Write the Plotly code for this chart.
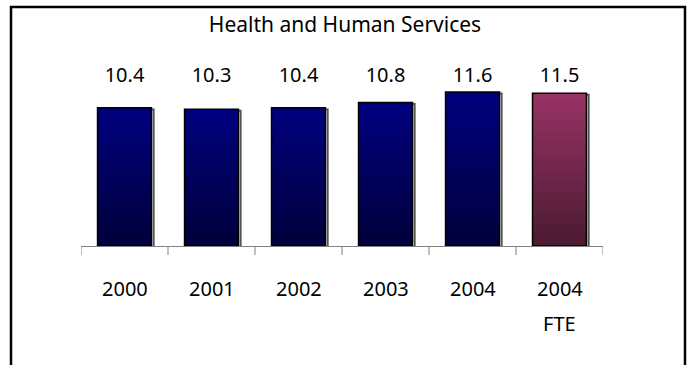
import plotly.graph_objects as go

categories = ["2000", "2001", "2002", "2003", "2004", "2004 FTE"]
tick_lines = [["2000"], ["2001"], ["2002"], ["2003"], ["2004"], ["2004", "FTE"]]
values = [10.4, 10.3, 10.4, 10.8, 11.6, 11.5]
top_colors = ["#000080", "#000080", "#000080", "#000080", "#000080", "#993366"]
bottom_colors = ["#00003a", "#00003a", "#00003a", "#00003a", "#00003a", "#4a1a30"]
title_text = "Health and Human Services"

FONT = "Noto Sans"
bar_half = 0.31
label_y = 12.7

fig = go.Figure()
for i, (v, ct, cb) in enumerate(zip(values, top_colors, bottom_colors)):
    xs = [i - bar_half, i + bar_half, i + bar_half, i - bar_half, i - bar_half]
    ys = [0, 0, v, v, 0]
    fig.add_trace(go.Scatter(
        x=[x + 0.025 for x in xs], y=[y - 0.12 for y in ys], mode="lines",
        line=dict(color="#555555", width=2), hoverinfo="skip", showlegend=False))
    fig.add_trace(go.Scatter(
        x=xs, y=ys, mode="lines", fill="toself",
        fillgradient=dict(type="vertical", colorscale=[[0, cb], [1, ct]]),
        line=dict(color="#000000", width=1.5), hoverinfo="skip", showlegend=False))

fig.add_trace(go.Scatter(
    x=list(range(len(values))), y=[label_y] * len(values), mode="text",
    text=[f"{v:.1f}" for v in values], textposition="middle center",
    textfont=dict(family=FONT, size=20, color="#000000"),
    hoverinfo="skip", showlegend=False))

fig.update_layout(
    width=695, height=365,
    margin=dict(l=81, r=92, t=60, b=119),
    paper_bgcolor="white", plot_bgcolor="white",
    title=dict(text=title_text, x=(345 - 81) / 522, xref="paper", xanchor="center",
               y=1 - 25 / 365, yref="container", yanchor="middle",
               font=dict(family=FONT, size=21, color="#000000")),
    xaxis=dict(
        tickmode="array", tickvals=list(range(len(categories))),
        ticktext=[""] * len(categories),
        range=[-0.5, len(categories) - 0.5],
        showgrid=False, zeroline=False, showline=True, linecolor="#808080", linewidth=1,
        ticks="", fixedrange=True),
    yaxis=dict(range=[0, 14], visible=False, fixedrange=True),
    showlegend=False,
)

pw, ph = 695 - 81 - 92, 365 - 60 - 119

# category labels, one row per line
row_px = [288, 323]
for i, lines in enumerate(tick_lines):
    for j, line in enumerate(lines):
        fig.add_annotation(x=i, xref="x", y=(246 - row_px[j]) / ph, yref="paper",
                           text=line, showarrow=False, xanchor="center", yanchor="middle",
                           font=dict(family=FONT, size=20, color="#000000"))

# tick marks at category boundaries
for b in range(len(categories) + 1):
    fig.add_shape(type="line", xref="x", yref="paper",
                  x0=b - 0.5, x1=b - 0.5, y0=0, y1=-9 / ph,
                  line=dict(color="#808080", width=1))

# outer frame (bottom edge falls outside the picture)
fig.add_shape(type="rect", xref="paper", yref="paper",
              x0=(11 - 81) / pw, x1=(685 - 81) / pw,
              y0=(246 - 400) / ph, y1=(246 - 7) / ph,
              line=dict(color="#000000", width=2.5), fillcolor="rgba(0,0,0,0)")

fig.write_html("out.html")
